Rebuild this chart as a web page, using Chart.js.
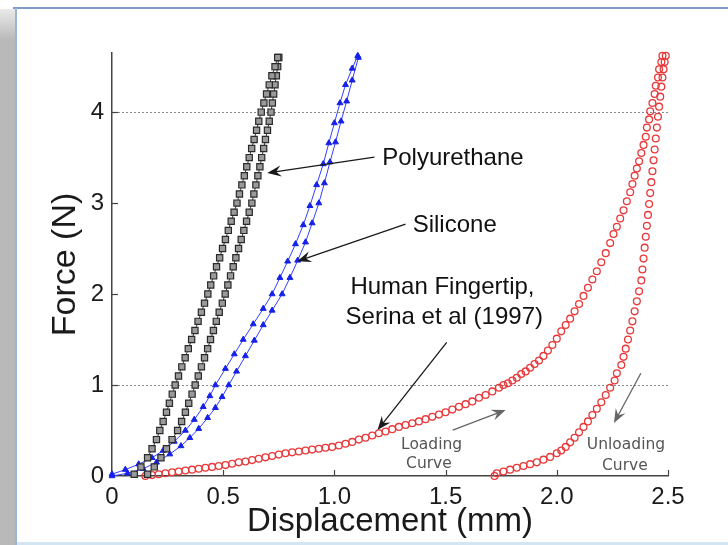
<!DOCTYPE html>
<html lang="en">
<head>
<meta charset="UTF-8">
<title>Force vs displacement</title>
<style>
  html, body { margin: 0; padding: 0; background: #fff; }
  canvas { display: block; }
</style>
</head>
<body>
<canvas id="canvas" width="728" height="545"></canvas>
<script src="https://cdn.jsdelivr.net/npm/chart.js@4.4.0/dist/chart.umd.min.js"></script>
<script>
// every point is [displacement (mm), force (N)]
const polyurethaneLeft = [
  [0.10, 0.02], [0.13, 0.1], [0.16, 0.2], [0.18, 0.3], [0.20, 0.4], [0.215, 0.5], [0.23, 0.6], [0.245, 0.7],
  [0.258, 0.8], [0.271, 0.9], [0.284, 1.0], [0.299, 1.1], [0.314, 1.2], [0.329, 1.3], [0.343, 1.4], [0.358, 1.5],
  [0.373, 1.6], [0.387, 1.7], [0.402, 1.8], [0.416, 1.9], [0.431, 2.0], [0.444, 2.1], [0.457, 2.2], [0.470, 2.3],
  [0.484, 2.4], [0.497, 2.5], [0.510, 2.6], [0.523, 2.7], [0.536, 2.8], [0.549, 2.9], [0.562, 3.0], [0.573, 3.1],
  [0.584, 3.2], [0.595, 3.3], [0.606, 3.4], [0.617, 3.5], [0.628, 3.6], [0.639, 3.7], [0.650, 3.8], [0.660, 3.9],
  [0.671, 4.0], [0.683, 4.1], [0.695, 4.2], [0.707, 4.3], [0.719, 4.4], [0.733, 4.5], [0.745, 4.6]
];
const polyurethaneRight = [
  [0.16, 0.02], [0.19, 0.1], [0.22, 0.2], [0.245, 0.3], [0.27, 0.4], [0.295, 0.5], [0.313, 0.6], [0.330, 0.7],
  [0.345, 0.8], [0.360, 0.9], [0.374, 1.0], [0.388, 1.1], [0.402, 1.2], [0.416, 1.3], [0.430, 1.4], [0.443, 1.5],
  [0.456, 1.6], [0.469, 1.7], [0.482, 1.8], [0.496, 1.9], [0.509, 2.0], [0.521, 2.1], [0.533, 2.2], [0.545, 2.3],
  [0.557, 2.4], [0.569, 2.5], [0.581, 2.6], [0.593, 2.7], [0.605, 2.8], [0.617, 2.9], [0.629, 3.0], [0.638, 3.1],
  [0.647, 3.2], [0.656, 3.3], [0.665, 3.4], [0.673, 3.5], [0.682, 3.6], [0.690, 3.7], [0.699, 3.8], [0.707, 3.9],
  [0.715, 4.0], [0.721, 4.1], [0.727, 4.2], [0.733, 4.3], [0.739, 4.4], [0.745, 4.5], [0.750, 4.6]
];
const siliconeLeft = [
  [0.00, 0.02], [0.06, 0.07], [0.12, 0.13], [0.18, 0.20], [0.23, 0.28], [0.28, 0.38], [0.33, 0.50], [0.37, 0.62],
  [0.41, 0.76], [0.44, 0.88], [0.465, 1.0], [0.51, 1.18], [0.55, 1.34], [0.59, 1.5], [0.635, 1.67], [0.68, 1.84],
  [0.72, 2.0], [0.755, 2.18], [0.79, 2.36], [0.825, 2.55], [0.86, 2.76], [0.89, 2.97], [0.92, 3.2], [0.95, 3.43],
  [0.975, 3.66], [1.0, 3.88], [1.025, 4.1], [1.05, 4.3], [1.08, 4.48], [1.105, 4.62]
];
const siliconeRight = [
  [0.00, 0.00], [0.07, 0.03], [0.14, 0.08], [0.20, 0.15], [0.26, 0.24], [0.31, 0.33], [0.35, 0.42], [0.39, 0.52],
  [0.43, 0.64], [0.465, 0.75], [0.495, 0.87], [0.525, 1.0], [0.56, 1.15], [0.60, 1.32], [0.64, 1.49], [0.68, 1.66],
  [0.72, 1.82], [0.765, 2.0], [0.80, 2.18], [0.835, 2.37], [0.87, 2.57], [0.90, 2.78], [0.93, 3.0], [0.955, 3.22],
  [0.98, 3.45], [1.005, 3.67], [1.03, 3.9], [1.055, 4.12], [1.08, 4.35], [1.108, 4.6]
];
const fingertipLoading = [
  [0.15, 0.00], [0.18, 0.01], [0.21, 0.02], [0.24, 0.03], [0.27, 0.04], [0.30, 0.05], [0.33, 0.06], [0.36, 0.07],
  [0.39, 0.08], [0.42, 0.09], [0.45, 0.10], [0.48, 0.11], [0.51, 0.12], [0.54, 0.135], [0.57, 0.15], [0.60, 0.16],
  [0.63, 0.175], [0.66, 0.19], [0.69, 0.205], [0.72, 0.22], [0.75, 0.235], [0.78, 0.25], [0.81, 0.26], [0.84, 0.27],
  [0.87, 0.28], [0.90, 0.29], [0.93, 0.30], [0.96, 0.31], [0.99, 0.32], [1.02, 0.335], [1.05, 0.355], [1.08, 0.375],
  [1.11, 0.40], [1.14, 0.42], [1.17, 0.445], [1.20, 0.47], [1.23, 0.49], [1.26, 0.515], [1.29, 0.54], [1.32, 0.56],
  [1.35, 0.58], [1.38, 0.60], [1.41, 0.625], [1.44, 0.65], [1.47, 0.675], [1.50, 0.70], [1.53, 0.73], [1.56, 0.76],
  [1.59, 0.79], [1.62, 0.82], [1.65, 0.86], [1.68, 0.89], [1.71, 0.93], [1.74, 0.97], [1.76, 1.00], [1.78, 1.02],
  [1.80, 1.05], [1.82, 1.08], [1.84, 1.12], [1.86, 1.15], [1.88, 1.19], [1.90, 1.23], [1.92, 1.27], [1.94, 1.32],
  [1.96, 1.38], [1.98, 1.44], [2.00, 1.51], [2.02, 1.59], [2.04, 1.66], [2.06, 1.73], [2.08, 1.81], [2.10, 1.89],
  [2.12, 1.98], [2.14, 2.07], [2.16, 2.16], [2.18, 2.25], [2.20, 2.35], [2.22, 2.45], [2.24, 2.56], [2.255, 2.66],
  [2.27, 2.74], [2.285, 2.83], [2.30, 2.92], [2.315, 3.02], [2.33, 3.12], [2.34, 3.21], [2.35, 3.30], [2.36, 3.38],
  [2.37, 3.46], [2.38, 3.55], [2.39, 3.64], [2.40, 3.73], [2.405, 3.83], [2.415, 3.92], [2.42, 4.01], [2.43, 4.10],
  [2.44, 4.20], [2.445, 4.29], [2.455, 4.38], [2.46, 4.47], [2.47, 4.55], [2.475, 4.62]
];
const fingertipUnloading = [
  [2.49, 4.62], [2.485, 4.55], [2.48, 4.47], [2.475, 4.38], [2.47, 4.28], [2.465, 4.17], [2.46, 4.06], [2.455, 3.95],
  [2.45, 3.83], [2.445, 3.71], [2.44, 3.59], [2.435, 3.47], [2.43, 3.35], [2.425, 3.23], [2.42, 3.11], [2.415, 2.99],
  [2.41, 2.87], [2.405, 2.75], [2.40, 2.63], [2.395, 2.51], [2.39, 2.39], [2.385, 2.27], [2.38, 2.15], [2.37, 2.03],
  [2.36, 1.92], [2.35, 1.81], [2.34, 1.70], [2.33, 1.60], [2.32, 1.50], [2.31, 1.40], [2.30, 1.31], [2.29, 1.22],
  [2.27, 1.13], [2.26, 1.05], [2.24, 0.97], [2.22, 0.89], [2.20, 0.81], [2.18, 0.74], [2.16, 0.67], [2.14, 0.60],
  [2.12, 0.54], [2.10, 0.48], [2.08, 0.42], [2.06, 0.37], [2.04, 0.32], [2.02, 0.28], [2.00, 0.25], [1.97, 0.21],
  [1.94, 0.18], [1.91, 0.15], [1.88, 0.13], [1.85, 0.11], [1.82, 0.09], [1.79, 0.07], [1.76, 0.05], [1.73, 0.03],
  [1.72, 0.00]
];

const xTicks = [0, 0.5, 1, 1.5, 2, 2.5];
const yTicks = [0, 1, 2, 3, 4];
const dottedLevels = [1, 4];

const FONT = "'Liberation Sans', Arial, sans-serif";
const toPts = arr => arr.map(p => ({ x: p[0], y: p[1] }));

function arrow(ctx, x1, y1, x2, y2, color) {
  const a = Math.atan2(y2 - y1, x2 - x1);
  ctx.save();
  ctx.strokeStyle = color;
  ctx.fillStyle = color;
  ctx.lineWidth = 1.3;
  ctx.beginPath();
  ctx.moveTo(x1, y1);
  ctx.lineTo(x2 - Math.cos(a) * 6, y2 - Math.sin(a) * 6);
  ctx.stroke();
  ctx.translate(x2, y2);
  ctx.rotate(a);
  ctx.beginPath();
  ctx.moveTo(0, 0);
  ctx.lineTo(-14, -5.5);
  ctx.lineTo(-9, 0);
  ctx.lineTo(-14, 5.5);
  ctx.closePath();
  ctx.fill();
  ctx.restore();
}

// white slide with blue frame and grey strip on the left
const framePlugin = {
  id: 'frame',
  beforeDraw(chart) {
    const ctx = chart.ctx;
    ctx.save();
    ctx.fillStyle = '#fff';
    ctx.fillRect(0, 0, chart.width, chart.height);
    const g = ctx.createLinearGradient(0, 8, 0, 40);
    g.addColorStop(0, '#ececec');
    g.addColorStop(1, '#b9b9b9');
    ctx.fillStyle = g;
    ctx.fillRect(0, 9, 15, chart.height - 9);
    ctx.fillStyle = '#7d9dc8';
    ctx.fillRect(13, 7, chart.width - 13, 2);
    ctx.fillStyle = '#9bb5d8';
    ctx.fillRect(15, 8, 2, chart.height - 8);
    ctx.fillStyle = '#d3e4f2';
    ctx.fillRect(17, chart.height - 3, chart.width - 17, 3);
    ctx.restore();
  },
  beforeDatasetsDraw(chart) {
    const { ctx, scales: { x, y } } = chart;
    ctx.save();
    // dotted reference lines
    ctx.strokeStyle = '#8a8a8a';
    ctx.lineWidth = 1;
    ctx.setLineDash([2, 2]);
    dottedLevels.forEach(v => {
      const py = Math.round(y.getPixelForValue(v)) + 0.5;
      ctx.beginPath();
      ctx.moveTo(x.left + 2, py);
      ctx.lineTo(x.right, py);
      ctx.stroke();
    });
    ctx.setLineDash([]);
    // inward ticks
    ctx.strokeStyle = '#444';
    ctx.lineWidth = 1.2;
    xTicks.slice(1).forEach(v => {
      const px = Math.round(x.getPixelForValue(v)) + 0.5;
      ctx.beginPath();
      ctx.moveTo(px, y.bottom);
      ctx.lineTo(px, y.bottom - 6);
      ctx.stroke();
    });
    yTicks.slice(1).forEach(v => {
      const py = Math.round(y.getPixelForValue(v)) + 0.5;
      ctx.beginPath();
      ctx.moveTo(x.left - 1, py);
      ctx.lineTo(x.left + 6, py);
      ctx.stroke();
    });
    ctx.restore();
  },
  afterDraw(chart) {
    const { ctx, scales: { x, y } } = chart;
    const P = (dx, dy) => [x.getPixelForValue(dx), y.getPixelForValue(dy)];
    ctx.save();
    ctx.textBaseline = 'middle';
    ctx.fillStyle = '#111';
    ctx.font = '24px ' + FONT;
    ctx.textAlign = 'left';
    [['Polyurethane', 1.215, 3.49], ['Silicone', 1.352, 2.75],
     ['Human Fingertip,', 1.072, 2.07], ['Serina et al (1997)', 1.05, 1.74]].forEach(t => {
      const [px, py] = P(t[1], t[2]);
      ctx.fillText(t[0], px, py);
    });
    ctx.fillStyle = '#555';
    ctx.font = "15.5px 'DejaVu Sans', Verdana, sans-serif";
    ctx.textAlign = 'center';
    [['Loading', 1.437, 0.34], ['Curve', 1.425, 0.13],
     ['Unloading', 2.311, 0.34], ['Curve', 2.306, 0.11]].forEach(t => {
      const [px, py] = P(t[1], t[2]);
      ctx.fillText(t[0], px, py);
    });
    const black = '#1a1a1a', grey = '#666';
    [[1.18, 3.505, 0.698, 3.33, black], [1.32, 2.77, 0.833, 2.36, black],
     [1.505, 1.47, 1.194, 0.505, black], [1.532, 0.505, 1.77, 0.725, grey],
     [2.378, 1.13, 2.257, 0.582, grey]].forEach(a => {
      const [x1, y1] = P(a[0], a[1]);
      const [x2, y2] = P(a[2], a[3]);
      arrow(ctx, x1, y1, x2, y2, a[4]);
    });
    ctx.restore();
  }
};

const blackSeries = {
  borderColor: '#3a3a3a', borderWidth: 1, pointStyle: 'rect', pointRadius: 4.4,
  pointBackgroundColor: '#9a9a9a', pointBorderColor: '#2a2a2a', pointBorderWidth: 1.2, showLine: true, clip: false
};
const blueSeries = {
  borderColor: '#3340ff', borderWidth: 1, pointStyle: 'triangle', pointRadius: 3.4,
  pointBackgroundColor: '#1520e8', pointBorderColor: '#1520e8', pointBorderWidth: 1, showLine: true, clip: false
};
const redSeries = {
  showLine: false, pointStyle: 'circle', pointRadius: 3.4, pointBackgroundColor: 'rgba(0,0,0,0)',
  pointBorderColor: '#e8383a', pointBorderWidth: 1.3, clip: false
};

new Chart(document.getElementById('canvas'), {
  type: 'scatter',
  data: {
    datasets: [
      Object.assign({ label: 'Polyurethane loading', data: toPts(polyurethaneLeft) }, blackSeries),
      Object.assign({ label: 'Polyurethane unloading', data: toPts(polyurethaneRight) }, blackSeries),
      Object.assign({ label: 'Silicone loading', data: toPts(siliconeLeft) }, blueSeries),
      Object.assign({ label: 'Silicone unloading', data: toPts(siliconeRight) }, blueSeries),
      Object.assign({ label: 'Fingertip loading', data: toPts(fingertipLoading) }, redSeries),
      Object.assign({ label: 'Fingertip unloading', data: toPts(fingertipUnloading) }, redSeries)
    ]
  },
  options: {
    responsive: false,
    animation: false,
    layout: { padding: { top: 53, right: 60, left: 0, bottom: 0 } },
    plugins: { legend: { display: false }, tooltip: { enabled: false } },
    scales: {
      x: {
        type: 'linear', min: 0, max: 2.5,
        afterBuildTicks: s => { s.ticks = xTicks.map(v => ({ value: v })); },
        afterFit: s => { s.height = 69; },
        grid: { display: false, drawTicks: false },
        border: { color: '#444', width: 1.5 },
        ticks: { padding: 7, color: '#1a1a1a', font: { family: FONT, size: 24 }, maxRotation: 0 },
        title: { display: true, text: 'Displacement (mm)', color: '#1a1a1a',
                 font: { family: FONT, size: 33 }, padding: { top: 0, bottom: 3 } }
      },
      y: {
        type: 'linear', min: 0, max: 4.65,
        afterBuildTicks: s => { s.ticks = yTicks.map(v => ({ value: v })); },
        afterFit: s => { s.width = 112; },
        grid: { display: false, drawTicks: false },
        border: { color: '#444', width: 1.5 },
        ticks: { padding: 8, color: '#1a1a1a', font: { family: FONT, size: 24 } },
        title: { display: true, text: 'Force (N)', color: '#1a1a1a',
                 font: { family: FONT, size: 34 }, padding: { top: 45, bottom: 0 } }
      }
    }
  },
  plugins: [framePlugin]
});
</script>
</body>
</html>
